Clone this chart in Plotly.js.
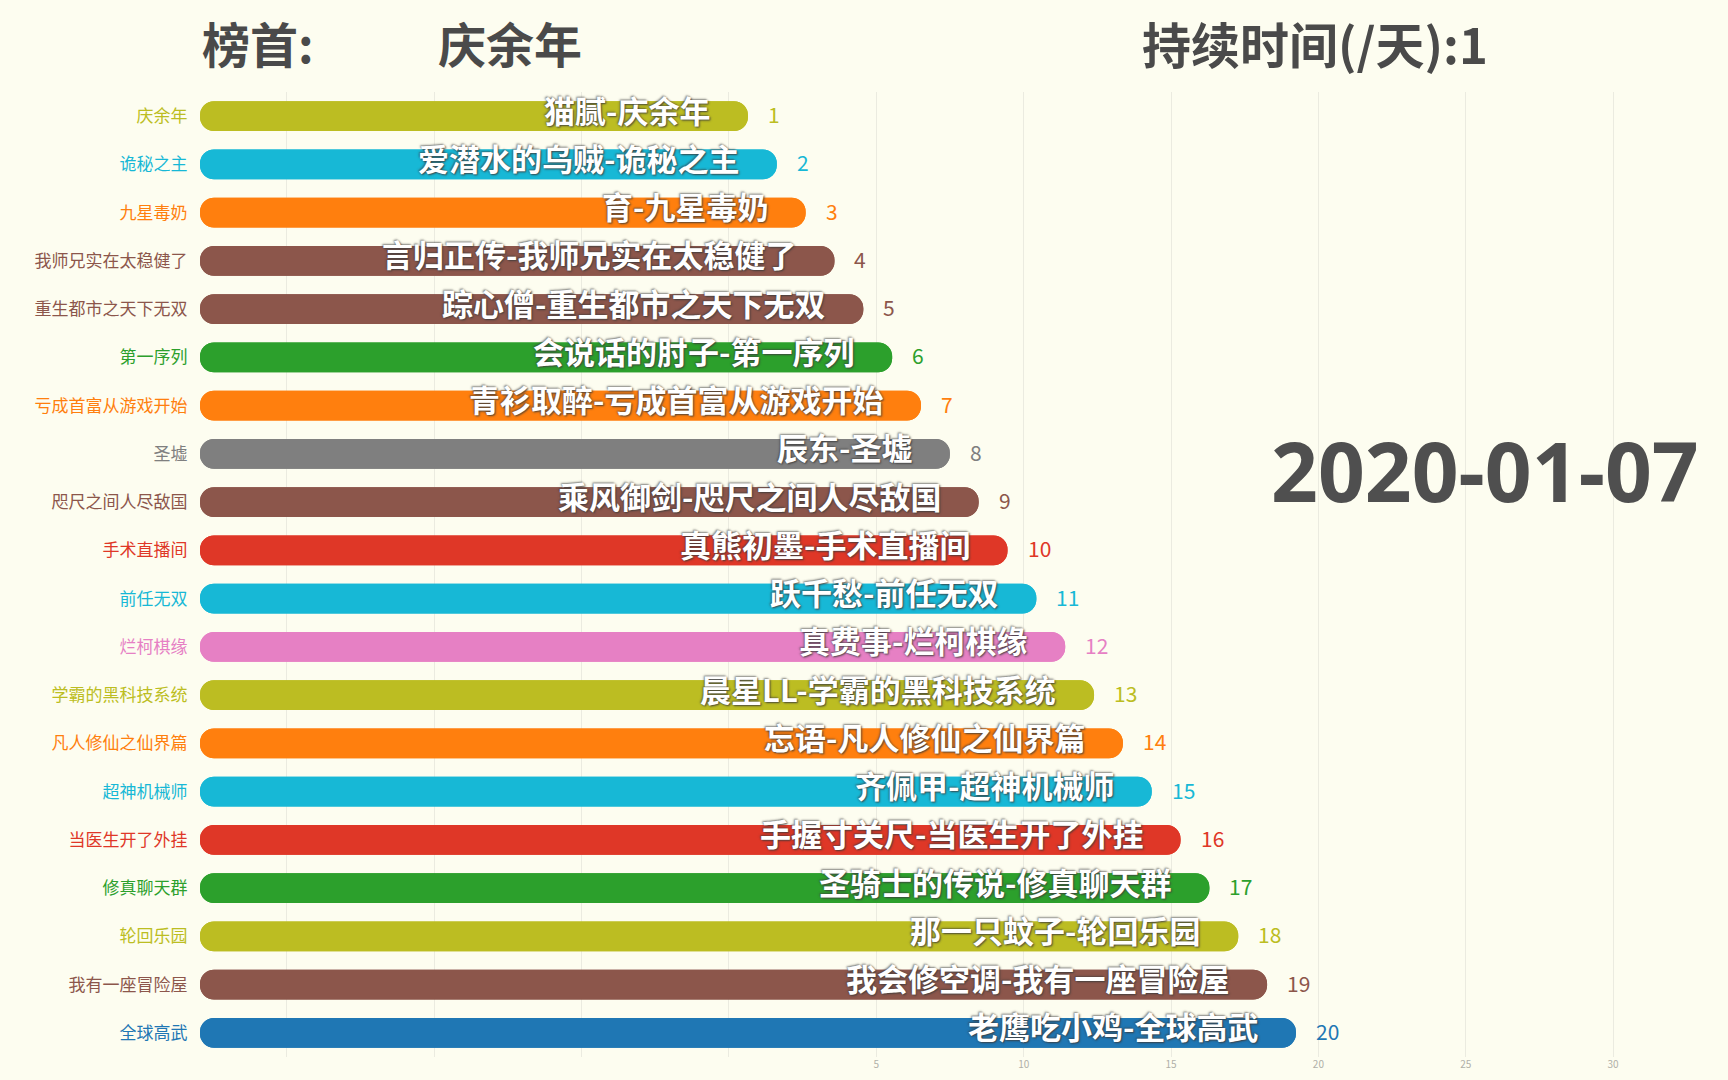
<!DOCTYPE html>
<html>
<head>
<meta charset="utf-8">
<script src="https://cdn.plot.ly/plotly-3.0.1.min.js"></script>
<style>
html,body{margin:0;padding:0;background:#fdfdf0;}
#chart{width:1728px;height:1080px;}
</style>
</head>
<body>
<div id="chart"></div>
<script>
// ---------------- data ----------------
const books = ['庆余年','诡秘之主','九星毒奶','我师兄实在太稳健了','重生都市之天下无双','第一序列','亏成首富从游戏开始','圣墟','咫尺之间人尽敌国','手术直播间','前任无双','烂柯棋缘','学霸的黑科技系统','凡人修仙之仙界篇','超神机械师','当医生开了外挂','修真聊天群','轮回乐园','我有一座冒险屋','全球高武'];
const authors = ['猫腻','爱潜水的乌贼','育','言归正传','踪心僧','会说话的肘子','青衫取醉','辰东','乘风御剑','真熊初墨','跃千愁','真费事','晨星LL','忘语','齐佩甲','手握寸关尺','圣骑士的传说','那一只蚊子','我会修空调','老鹰吃小鸡'];
const values = [1,2,3,4,5,6,7,8,9,10,11,12,13,14,15,16,17,18,19,20];
const colors = ['#bcbd22','#17b8d6','#ff7f0e','#8c564b','#8c564b','#2ca02c','#ff7f0e','#7f7f7f','#8c564b','#df3727','#17b8d6','#e680c4','#bcbd22','#ff7f0e','#17b8d6','#df3727','#2ca02c','#bcbd22','#8c564b','#1f77b4'];
const leaderLabel = '榜首:';
const durationLabel = '持续时间(/天):';
const duration = 1;
const dateLabel = '2020-01-07';
const gridTickVals = [-15,-10,-5,0,5,10,15,20,25,30];
const gridTickText = ['','','','','5','10','15','20','25','30'];

// ---------------- layout constants ----------------
const W = 1728, H = 1080;
const ML = 200, MR = 0, MT = 92, MB = 23;
const PW = W - ML - MR, PH = H - MT - MB;
const BAR_STUB = 18;          // constant stub every bar starts from
const BAR_PX_PER_UNIT = 28.84;
const GRID_START = -17.95, GRID_PX_PER_UNIT = 29.47;
const FONT = '"Noto Sans CJK SC", "Noto Sans", sans-serif';
const px2x = p => (p - ML) / PW;
const py2y = p => (H - MB - p) / PH;

const barA = {
  type: 'bar', orientation: 'h',
  y: books, base: -BAR_STUB, x: values.map(v => v + BAR_STUB),
  marker: {color: colors, cornerradius: '50%'},
  xaxis: 'x', yaxis: 'y', hoverinfo: 'skip', showlegend: false
};
const barB = {
  type: 'bar', orientation: 'h',
  y: books, base: values, x: values.map(v => -(v + BAR_STUB)),
  marker: {color: colors, cornerradius: '50%'},
  xaxis: 'x', yaxis: 'y', hoverinfo: 'skip', showlegend: false
};
const gridHolder = {
  type: 'scatter', mode: 'markers', x: [], y: [],
  xaxis: 'x2', yaxis: 'y', hoverinfo: 'skip', showlegend: false
};

const annotations = [];
books.forEach((b, i) => {
  annotations.push({
    xref: 'x', yref: 'y', x: values[i], y: b,
    xanchor: 'right', yanchor: 'middle', xshift: -36, yshift: 7,
    text: authors[i] + '-' + b, showarrow: false,
    font: {family: FONT, size: 31, color: '#ffffff', weight: 700,
           shadow: '1px 1px 2px rgba(60,60,60,0.9), -1px -1px 2px rgba(60,60,60,0.6)'}
  });
  annotations.push({
    xref: 'x', yref: 'y', x: values[i], y: b,
    xanchor: 'left', yanchor: 'middle', xshift: 18, yshift: 2,
    text: String(values[i]), showarrow: false,
    font: {family: FONT, size: 21, color: colors[i], weight: 400}
  });
});
annotations.push({
  xref: 'paper', yref: 'paper', x: px2x(200), y: py2y(42),
  xanchor: 'left', yanchor: 'middle', showarrow: false, text: leaderLabel,
  font: {family: FONT, size: 48, color: '#4a4a4a', weight: 700}
});
annotations.push({
  xref: 'paper', yref: 'paper', x: px2x(436), y: py2y(42),
  xanchor: 'left', yanchor: 'middle', showarrow: false, text: books[0],
  font: {family: FONT, size: 48, color: '#4a4a4a', weight: 700}
});
annotations.push({
  xref: 'paper', yref: 'paper', x: px2x(1140), y: py2y(42),
  xanchor: 'left', yanchor: 'middle', showarrow: false, text: durationLabel + duration,
  font: {family: FONT, size: 49, color: '#4a4a4a', weight: 700}
});
annotations.push({
  xref: 'paper', yref: 'paper', x: px2x(1269), y: py2y(470),
  xanchor: 'left', yanchor: 'middle', showarrow: false, text: dateLabel,
  font: {family: '"Noto Sans", sans-serif', size: 82, color: '#4f4f4f', weight: 700}
});

const layout = {
  width: W, height: H,
  margin: {l: ML, r: MR, t: MT, b: MB, pad: 0},
  paper_bgcolor: '#fdfdf0', plot_bgcolor: '#fdfdf0',
  barmode: 'overlay', bargap: 0.38,
  showlegend: false,
  xaxis: {
    range: [-BAR_STUB, -BAR_STUB + PW / BAR_PX_PER_UNIT],
    showgrid: false, zeroline: false, showline: false,
    showticklabels: false, ticks: '', fixedrange: true
  },
  xaxis2: {
    overlaying: 'x', anchor: 'y', side: 'bottom',
    range: [GRID_START, GRID_START + PW / GRID_PX_PER_UNIT],
    tickmode: 'array', tickvals: gridTickVals, ticktext: gridTickText,
    showgrid: true, gridcolor: '#ebebe0', gridwidth: 1,
    zeroline: false, showline: false, ticks: '',
    tickfont: {family: FONT, size: 10, color: '#b0b0a8'}
  },
  yaxis: {
    type: 'category', categoryorder: 'array', categoryarray: books,
    range: [books.length - 0.5, -0.5],
    tickmode: 'array', tickvals: books,
    ticktext: books.map((b, i) => '<span style="color:' + colors[i] + '">' + b + '</span>'),
    ticks: 'outside', ticklen: 8, tickcolor: 'rgba(0,0,0,0)',
    showgrid: false, zeroline: false, showline: false,
    tickfont: {family: FONT, size: 17, color: '#666'}
  },
  annotations: annotations
};

Plotly.newPlot('chart', [barA, barB, gridHolder], layout, {displayModeBar: false, staticPlot: true});
</script>
</body>
</html>
